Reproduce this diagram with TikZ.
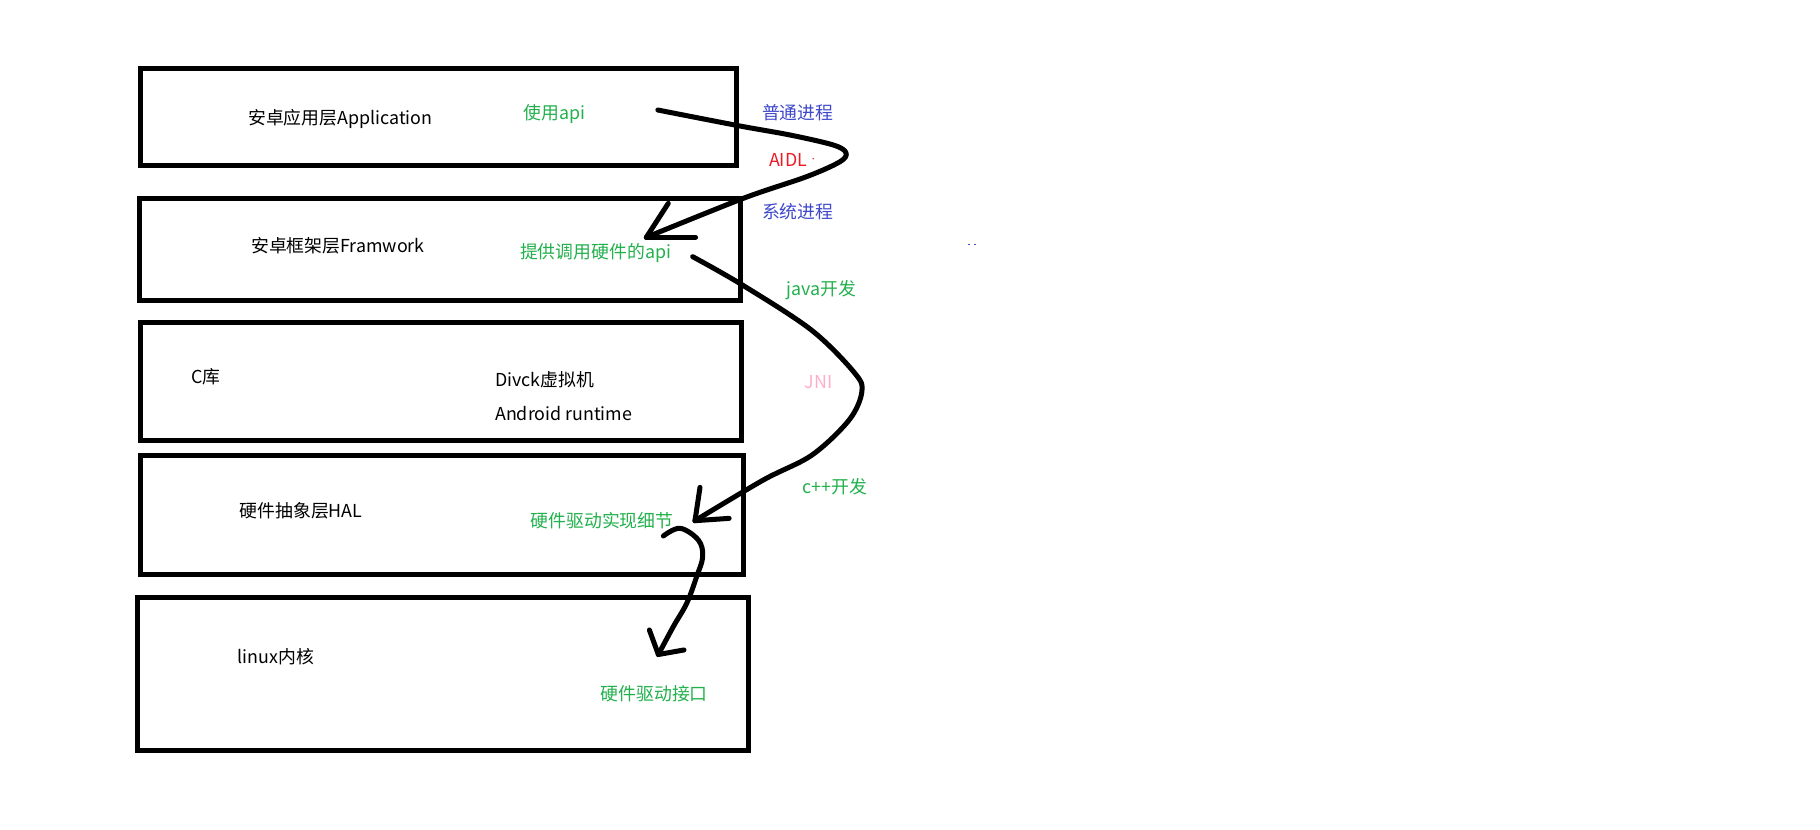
\documentclass[tikz,border=0pt]{standalone}
\usepackage{fontspec}
\setmainfont{Noto Sans CJK SC}
\definecolor{pgreen}{RGB}{34,177,76}
\definecolor{pblue}{RGB}{63,72,204}
\definecolor{pred}{RGB}{237,28,36}
\definecolor{ppink}{RGB}{255,174,201}
\tikzset{
  layer/.style={draw=black, line width=4.3pt},
  lbl/.style={anchor=west, inner sep=0pt, font=\fontsize{15.3}{18}\selectfont},
  stroke/.style={line width=4.3pt, line cap=round, line join=round},
}
\begin{document}
\begin{tikzpicture}[x=1pt,y=-1pt]
\useasboundingbox[fill=white] (0,0) rectangle (1560,710.6);
% layers
\draw[layer] (120.7,59) rectangle (631.4,142);
\draw[layer] (119.2,170.3) rectangle (634.4,257.7);
\draw[layer] (120.2,276.5) rectangle (635.9,377.6);
\draw[layer] (120.7,390.2) rectangle (637.4,492.2);
\draw[layer] (118.2,512) rectangle (641.9,642.9);
% texts
\node[lbl] (app) at (212.6,102) {安卓应用层Application};
\node[lbl, text=pgreen] (useapi) at (448.6,97.7) {使用api};
\node[lbl, text=pblue] (normal) at (653,96.3) {普通进程};
\node[lbl, text=pred] (aidl) at (659,137) {AIDL};
\fill[pred] (697,136) circle (0.7);
\node[lbl, text=pblue] (sys) at (653,181.4) {系统进程};
\node[lbl] (fw) at (215.1,210.9) {安卓框架层Framwork};
\node[lbl, text=pgreen] (prov) at (445.6,216.9) {提供调用硬件的api};
\node[lbl, text=pgreen] (java) at (674.2,248.3) {java开发};
\node[lbl] (clib) at (163.9,322.8) {C库};
\node[lbl] (dvm) at (424.3,325.7) {Divck虚拟机};
\node[lbl] (art) at (424.3,354) {Android runtime};
\node[lbl, text=ppink] (jni) at (689.6,327.4) {JNI};
\node[lbl] (hal) at (205.2,437.6) {硬件抽象层HAL};
\node[lbl, text=pgreen] (impl) at (454.6,446.2) {硬件驱动实现细节};
\node[lbl, text=pgreen] (cpp) at (687.5,416.8) {c++开发};
\node[lbl] (linux) at (203.7,562.5) {linux内核};
\node[lbl, text=pgreen] (iface) at (514.7,594.7) {硬件驱动接口};
\fill[pblue] (830,209) rectangle (831.5,210.2);
\fill[pblue] (835,209) rectangle (836.5,210.2);
% arrow 1: app -> framework (AIDL)
\coordinate (a1t) at (554,203.4);
\draw[stroke] plot[smooth, tension=0.55] coordinates {(563.9,94.3) (634.3,108) (677.1,115.7) (714.3,124.3) (725.1,130.9) (720,138.6) (691.4,151.4) (637.1,170) (554,203.4)};
\draw[stroke] (a1t) -- (572.8,174.3);
\draw[stroke] (a1t) -- (596.2,203.4);
% arrow 2: framework -> HAL (JNI)
\coordinate (a2t) at (595.7,446.3);
\draw[stroke] plot[smooth, tension=0.55] coordinates {(593.7,220) (635.9,244) (695.5,282.9) (732.8,320) (738.7,336) (727.8,360) (696,390) (654.3,411.4) (595.7,446.3)};
\draw[stroke] (a2t) -- (600,417.7);
\draw[stroke] (a2t) -- (625,444.3);
% arrow 3: HAL -> kernel
\coordinate (a3t) at (564.3,561);
\draw[stroke] plot[smooth, tension=0.6] coordinates {(568.6,459.4) (582.9,452.8) (598.6,462.9) (602.3,477.1) (597.1,494.3) (588.6,517.1) (577.1,537.1) (564.3,561)};
\draw[stroke] (a3t) -- (556.6,540);
\draw[stroke] (a3t) -- (586.3,557.1);
\end{tikzpicture}
\end{document}
